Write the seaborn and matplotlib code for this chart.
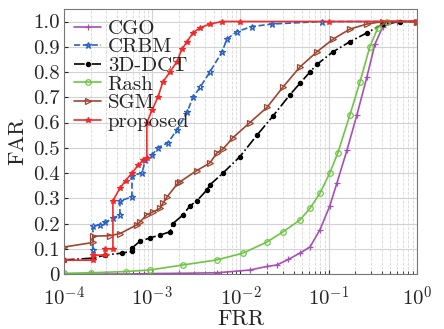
import numpy as np
import pandas as pd
import matplotlib
matplotlib.use("Agg")
import matplotlib.pyplot as plt
import seaborn as sns

sns.set_style("ticks")
plt.rcParams['font.family'] = ['cmr10', 'DejaVu Serif']
plt.rcParams['mathtext.fontset'] = 'cm'
plt.rcParams['axes.unicode_minus'] = False

# (FRR on log axis, FAR linear)
cgo_frr = [1e-4, 2e-4, 5e-4, 1e-3, 2e-3, 5.4e-3, 1.28e-2, 2e-2, 2.59e-2, 3.5e-2, 4.72e-2,
           6.14e-2, 7.96e-2, 0.103, 0.124, 0.161, 0.209, 0.271, 0.334, 0.412, 0.593, 1.0]
cgo_far = [0.0, 0.0, 0.0, 0.002, 0.003, 0.005, 0.016, 0.03, 0.036, 0.058, 0.083,
           0.107, 0.175, 0.27, 0.36, 0.49, 0.63, 0.78, 0.91, 0.98, 1.0, 1.0]

crbm_frr = [2.13e-4, 2.13e-4, 2.56e-4, 2.92e-4, 3.59e-4, 4.31e-4, 4.31e-4, 5.9e-4, 5.9e-4,
            7.7e-4, 8.3e-4, 9.9e-4, 1.16e-3, 1.51e-3, 1.9e-3, 2.48e-3, 2.9e-3, 3.5e-3,
            4.5e-3, 6.2e-3, 7.0e-3, 9.1e-3, 1.35e-2, 2.27e-2, 8.4e-2, 1.0]
crbm_far = [0.095, 0.19, 0.195, 0.205, 0.22, 0.235, 0.29, 0.305, 0.39,
            0.40, 0.45, 0.47, 0.50, 0.52, 0.57, 0.64, 0.70, 0.74,
            0.80, 0.88, 0.93, 0.96, 0.98, 0.99, 1.0, 1.0]

dct_frr = [1e-4, 2.13e-4, 2.92e-4, 4.54e-4, 5.9e-4, 5.9e-4, 7.27e-4, 9.44e-4, 1.23e-3,
           1.59e-3, 1.72e-3, 2.23e-3, 2.68e-3, 3.21e-3, 4.17e-3, 4.51e-3, 6.34e-3,
           9.87e-3, 1.54e-2, 2.33e-2, 3.64e-2, 4.72e-2, 6.14e-2, 7.36e-2, 0.112,
           0.174, 0.271, 0.412, 0.641, 1.0]
dct_far = [0.056, 0.063, 0.075, 0.083, 0.09, 0.103, 0.13, 0.143, 0.155,
           0.167, 0.20, 0.234, 0.27, 0.29, 0.333, 0.353, 0.40,
           0.465, 0.55, 0.625, 0.71, 0.755, 0.80, 0.83, 0.88,
           0.92, 0.955, 0.99, 1.0, 1.0]

rash_frr = [1e-4, 2e-4, 5e-4, 9.4e-4, 2.23e-3, 5.4e-3, 1.07e-2, 2.0e-2, 3.03e-2, 4.72e-2,
            6.14e-2, 7.96e-2, 0.103, 0.127, 0.174, 0.226, 0.293, 0.361, 0.457, 1.0]
rash_far = [0.003, 0.005, 0.01, 0.016, 0.036, 0.056, 0.083, 0.127, 0.167, 0.214,
            0.26, 0.32, 0.40, 0.48, 0.63, 0.76, 0.90, 0.975, 1.0, 1.0]

sgm_frr = [1e-4, 2.13e-4, 2.13e-4, 3.3e-4, 4.31e-4, 6.7e-4, 7.27e-4, 8.7e-4, 1.02e-3,
           1.23e-3, 1.32e-3, 1.47e-3, 1.96e-3, 2.06e-3, 3.21e-3, 4.51e-3, 5.42e-3,
           6.34e-3, 8.22e-3, 1.28e-2, 2.0e-2, 3.03e-2, 4.72e-2, 7.36e-2, 0.112,
           0.174, 0.271, 0.412, 1.0]
sgm_far = [0.107, 0.125, 0.15, 0.152, 0.16, 0.195, 0.206, 0.235, 0.246,
           0.26, 0.28, 0.305, 0.36, 0.365, 0.41, 0.44, 0.48,
           0.495, 0.54, 0.60, 0.66, 0.74, 0.82, 0.88, 0.93,
           0.97, 0.99, 1.0, 1.0]

prop_frr = [1e-4, 2.13e-4, 2.13e-4, 2.92e-4, 2.92e-4, 3.59e-4, 3.59e-4, 4.31e-4, 5.0e-4,
            5.9e-4, 6.9e-4, 7.85e-4, 8.7e-4, 8.7e-4, 1.0e-3, 1.16e-3, 1.32e-3, 1.59e-3,
            1.9e-3, 2.17e-3, 2.48e-3, 2.9e-3, 3.48e-3, 4.5e-3, 6.2e-3, 1e-2, 0.1, 1.0]
prop_far = [0.055, 0.055, 0.075, 0.075, 0.10, 0.10, 0.29, 0.34, 0.37,
            0.40, 0.43, 0.45, 0.46, 0.60, 0.65, 0.70, 0.76, 0.80,
            0.84, 0.89, 0.92, 0.955, 0.975, 0.99, 1.0, 1.0, 1.0, 1.0]

series = [
    ("CGO", cgo_frr, cgo_far, dict(color="#a64fb5", marker="+", ls="-", mfc="#a64fb5", ms=5)),
    ("CRBM", crbm_frr, crbm_far, dict(color="#2a62c4", marker="*", ls="--", mfc="none", ms=4.5)),
    ("3D-DCT", dct_frr, dct_far, dict(color="black", marker="o", ls="-.", mfc="black", ms=3)),
    ("Rash", rash_frr, rash_far, dict(color="#6cc644", marker="o", ls="-", mfc="none", ms=4)),
    ("SGM", sgm_frr, sgm_far, dict(color="#9e4530", marker=">", ls="-", mfc="none", ms=4.5)),
    ("proposed", prop_frr, prop_far, dict(color="#f22a2a", marker="*", ls="-", mfc="#f22a2a", ms=4)),
]

fig, ax = plt.subplots(figsize=(4.44, 3.29), dpi=100)
fig.subplots_adjust(left=0.144, right=0.939, bottom=0.167, top=0.973)

for name, xs, ys, st in series:
    df = pd.DataFrame({"FRR": xs, "FAR": ys})
    sns.lineplot(data=df, x="FRR", y="FAR", ax=ax, estimator=None, sort=False,
                 label=name, color=st["color"], marker=st["marker"], linestyle=st["ls"],
                 markerfacecolor=st["mfc"], markeredgecolor=st["color"],
                 markersize=st["ms"], markeredgewidth=0.9, linewidth=1.2)

ax.set_xscale("log")
ax.set_xlim(1e-4, 1)
ax.set_ylim(0, 1.05)
ax.set_xticks([1e-4, 1e-3, 1e-2, 1e-1, 1])
ax.set_xticklabels([r"$10^{-4}$", r"$10^{-3}$", r"$10^{-2}$", r"$10^{-1}$", r"$10^{0}$"])
yt = np.round(np.arange(0, 1.01, 0.1), 1)
ax.set_yticks(yt)
ax.set_yticklabels(["0"] + [f"{v:.1f}" for v in yt[1:]])
ax.tick_params(axis="both", which="both", direction="in")
ax.tick_params(axis="x", which="major", labelsize=15, pad=8)
ax.tick_params(axis="y", which="major", labelsize=15, pad=3)
ax.tick_params(which="major", length=3)
ax.tick_params(which="minor", length=2)
ax.grid(True, which="major", color="#d2d2d2", lw=0.8, ls="-")
ax.grid(True, which="minor", axis="x", color="#d8d8d8", lw=0.6, ls="--")
ax.set_axisbelow(True)
for sp in ax.spines.values():
    sp.set_color("#777777")
ax.set_xlabel("FRR", fontsize=16, labelpad=0)
ax.set_ylabel("FAR", fontsize=16, labelpad=4)

ax.legend(loc="upper left", frameon=False, fontsize=15, handlelength=1.3,
          handletextpad=0.3, labelspacing=0.0, borderaxespad=0.2, borderpad=0.3,
          bbox_to_anchor=(0.0, 1.0))

fig.savefig("out.png", dpi=100)
